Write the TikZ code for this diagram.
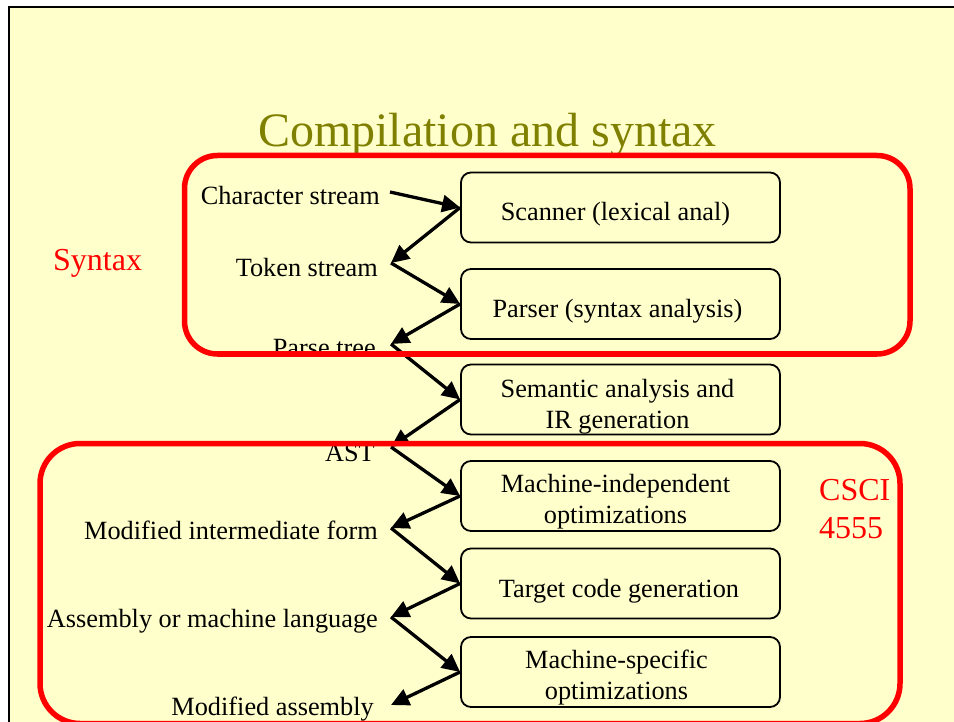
\documentclass[tikz,border=0pt]{standalone}
\usepackage{fontspec}
\setmainfont{Liberation Serif}
\usetikzlibrary{arrows.meta}
\definecolor{slidebg}{HTML}{FFFFCC}
\definecolor{titleolive}{HTML}{808000}
\definecolor{hotred}{HTML}{FF0000}
\begin{document}
\begin{tikzpicture}[x=1pt,y=-1pt,
  stagebox/.style={draw=black, rounded corners=10pt, line width=1.8pt,
    minimum width=319pt, minimum height=70pt, inner sep=0pt},
  stagetext/.style={font=\fontsize{26.3}{30.5}\selectfont, align=center, anchor=base, inner sep=0pt},
  lbl/.style={font=\fontsize{26.3}{30.5}\selectfont, anchor=base east, inner sep=0pt},
  flow/.style={line width=3.3pt, -{Triangle[length=18pt,width=17pt]}},
  groupbox/.style={draw=hotred, line width=5.5pt},
  grouplbl/.style={text=hotred, font=\fontsize{32}{38}\selectfont, align=left, anchor=base west, inner sep=0pt}]
\useasboundingbox (0,0) rectangle (954,722);
\clip (0,0) rectangle (954,722);
\fill[white] (0,0) rectangle (954,722);
\fill[slidebg] (9,6.7) rectangle (954,722);
\draw[line width=2pt] (9,722) -- (9,6.7) -- (954,6.7);

% title
\node[text=titleolive, font=\fontsize{48}{52}\selectfont, anchor=base, inner sep=0pt] (title) at (487.5,147) {Compilation and syntax};

% stage boxes
\node[stagebox] (b1) at (620.5,207.5) {};
\node[stagebox] (b2) at (620.5,304) {};
\node[stagebox] (b3) at (620.5,399.5) {};
\node[stagebox] (b4) at (620.5,496) {};
\node[stagebox] (b5) at (620.5,583.5) {};
\node[stagebox] (b6) at (620.5,672) {};

% texts (anchor=base is the last line's baseline)
\node[stagetext] (t1) at (615.5,221) {Scanner (lexical anal)};
\node[stagetext] (t2) at (617.5,317.5) {Parser (syntax analysis)};
\node[stagetext] (t3) at (617.5,428) {Semantic analysis and\\IR generation};
\node[stagetext] (t4) at (615.5,523) {Machine-independent\\optimizations};
\node[stagetext] (t5) at (619,597) {Target code generation};
\node[stagetext] (t6) at (616.5,699) {Machine-specific\\optimizations};

% left labels
\node[lbl] (l0) at (380,205) {Character stream};
\node[lbl] (l1) at (378,277) {Token stream};
\node[lbl] (l2) at (376,356) {Parse tree};
\node[lbl] (l3) at (375,461) {AST};
\node[lbl] (l4) at (378,539) {Modified intermediate form};
\node[lbl] (l5) at (378,627) {Assembly or machine language};
\node[lbl] (l6) at (374,715) {Modified assembly};

% arrow junction points next to labels
\coordinate (q0) at (390,192);
\coordinate (q1) at (391,263);
\coordinate (q2) at (391,344);
\coordinate (q3) at (391,447);
\coordinate (q4) at (391,528);
\coordinate (q5) at (391,617);
\coordinate (q6) at (391,705);

\draw[flow] (q0) -- (b1.west);
\draw[flow] (b1.west) -- (q1);
\draw[flow] (q1) -- (b2.west);
\draw[flow] (b2.west) -- (q2);
\draw[flow] (q2) -- (b3.west);
\draw[flow] (b3.west) -- (q3);
\draw[flow] (q3) -- (b4.west);
\draw[flow] (b4.west) -- (q4);
\draw[flow] (q4) -- (b5.west);
\draw[flow] (b5.west) -- (q5);
\draw[flow] (q5) -- (b6.west);
\draw[flow] (b6.west) -- (q6);

% group boxes
\draw[groupbox, rounded corners=33pt] (184.5,155.5) rectangle (910,354);
\draw[groupbox, rounded corners=40pt] (40,443.5) rectangle (900,723.5);

\node[grouplbl] (gsyn) at (53,271) {Syntax};
\node[grouplbl] (gcsci) at (819,538) {CSCI\\4555};
\end{tikzpicture}
\end{document}
